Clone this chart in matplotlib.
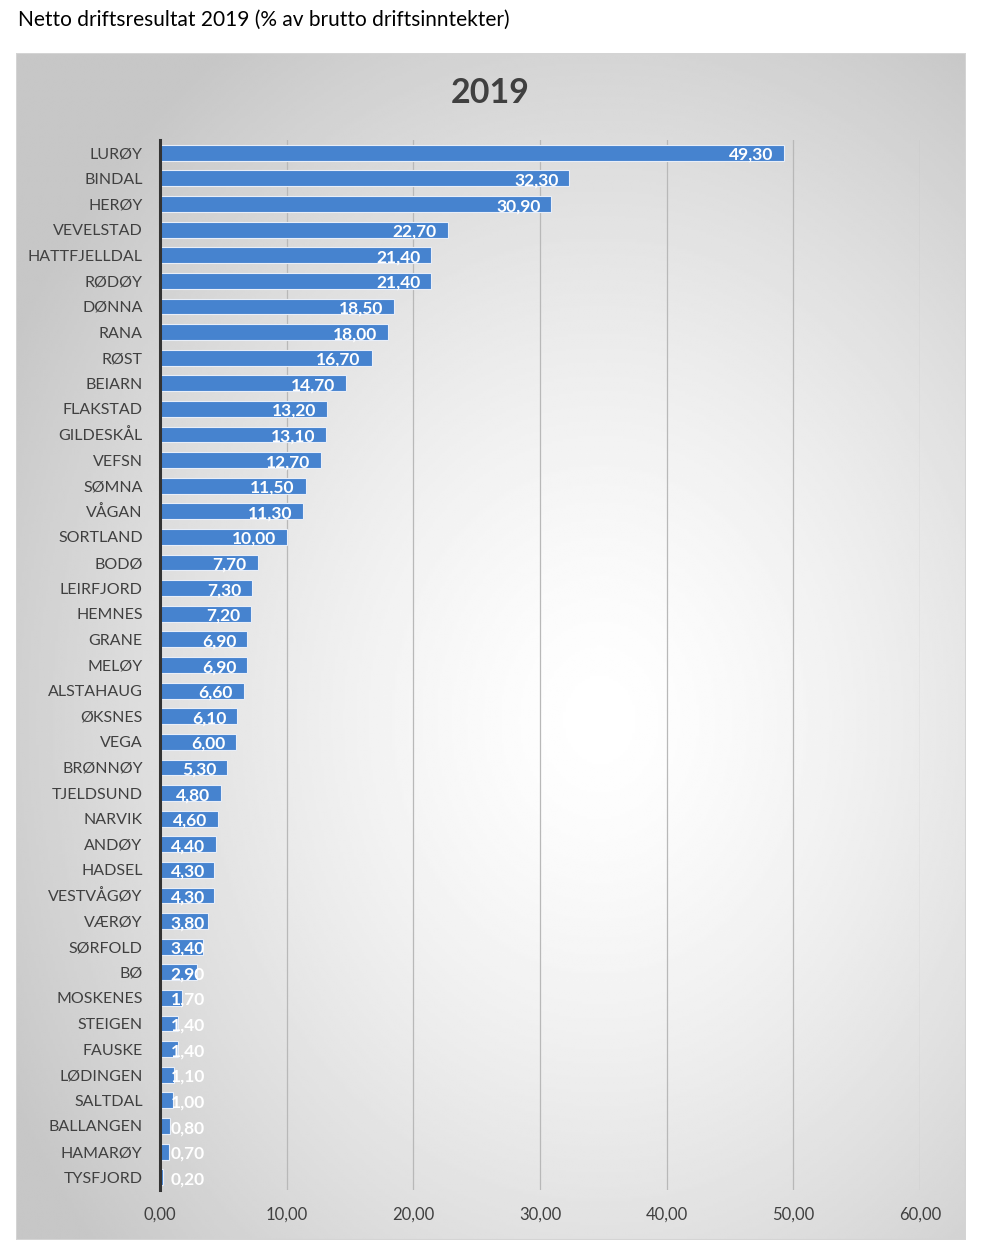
import numpy as np
import matplotlib
matplotlib.use("Agg")
import matplotlib.pyplot as plt
from matplotlib.patches import Rectangle

plt.rcParams['font.family'] = ['Lato', 'DejaVu Sans']

# Data (top to bottom as shown)
kommuner = [
	"LURØY", "BINDAL", "HERØY", "VEVELSTAD", "HATTFJELLDAL", "RØDØY", "DØNNA",
	"RANA", "RØST", "BEIARN", "FLAKSTAD", "GILDESKÅL", "VEFSN", "SØMNA", "VÅGAN",
	"SORTLAND", "BODØ", "LEIRFJORD", "HEMNES", "GRANE", "MELØY", "ALSTAHAUG",
	"ØKSNES", "VEGA", "BRØNNØY", "TJELDSUND", "NARVIK", "ANDØY", "HADSEL",
	"VESTVÅGØY", "VÆRØY", "SØRFOLD", "BØ", "MOSKENES", "STEIGEN", "FAUSKE",
	"LØDINGEN", "SALTDAL", "BALLANGEN", "HAMARØY", "TYSFJORD",
]
resultat = [
	49.3, 32.3, 30.9, 22.7, 21.4, 21.4, 18.5, 18.0, 16.7, 14.7, 13.2, 13.1,
	12.7, 11.5, 11.3, 10.0, 7.7, 7.3, 7.2, 6.9, 6.9, 6.6, 6.1, 6.0, 5.3,
	4.8, 4.6, 4.4, 4.3, 4.3, 3.8, 3.4, 2.9, 1.7, 1.4, 1.4, 1.1, 1.0, 0.8,
	0.7, 0.2,
]
x_ticks = [0, 10, 20, 30, 40, 50, 60]

W, H = 1000, 1251
fig = plt.figure(figsize=(W / 100, H / 100), dpi=100)
fig.patch.set_facecolor("white")

# chart box with radial gradient background
bx0, bx1, by0, by1 = 16, 966, 53, 1240
bg = fig.add_axes([bx0 / W, 1 - by1 / H, (bx1 - bx0) / W, (by1 - by0) / H])
gx, gy = np.meshgrid(np.linspace(bx0, bx1, 400), np.linspace(by0, by1, 500))
r = np.sqrt(((gx - 600) / 620) ** 2 + ((gy - 720) / 760) ** 2)
shade = np.clip(1.0 - 0.2 * r ** 1.4, 0.78, 1.0)
bg.imshow(shade, cmap="gray", vmin=0, vmax=1, aspect="auto",
		  extent=[0, 1, 0, 1], interpolation="bilinear")
bg.add_patch(Rectangle((0, 0), 1, 1, transform=bg.transAxes, fill=False,
					   edgecolor="#d4d4d4", linewidth=1.5))
bg.set_xlim(0, 1)
bg.set_ylim(0, 1)
bg.axis("off")

# main bar axes
ax_top, ax_bot = 140, 1190
ax = fig.add_axes([160 / W, 1 - ax_bot / H, 760 / W, (ax_bot - ax_top) / H])
ax.patch.set_alpha(0)

n = len(kommuner)
y = np.arange(n)
ax.barh(y, resultat, height=0.62, color="#4683cf", edgecolor="#e8eef8",
		linewidth=0.8, zorder=3)
ax.set_ylim(n - 0.5, -0.5)
ax.set_xlim(0, 60)
ax.set_yticks(y)
ax.set_yticklabels(kommuner, fontsize=11.5, color="#404040")
ax.set_xticks(x_ticks)
ax.set_xticklabels([f"{t:.2f}".replace(".", ",") for t in x_ticks],
				   fontsize=12, color="#404040")
ax.tick_params(axis="y", length=0, pad=12.5)
ax.tick_params(axis="x", length=0, pad=12)
ax.grid(axis="x", color="#b8b8b8", linewidth=0.9, zorder=0)
for s in ["top", "right", "bottom"]:
	ax.spines[s].set_visible(False)
ax.spines["left"].set_color("#333333")
ax.spines["left"].set_linewidth(2.2)
ax.spines["left"].set_zorder(4)

# value labels, placed at inside end (pushed out for short bars)
for i, v in enumerate(resultat):
	xr = max(v - 0.85, 3.55)
	ax.text(xr, i + 0.08, f"{v:.2f}".replace(".", ","), ha="right", va="center",
			fontsize=12.5, fontweight="bold", color="white", zorder=5)

fig.text(490 / W, 1 - 93 / H, "2019", ha="center", va="center",
		 fontsize=24.5, fontweight="bold", color="#404040")
fig.text(18 / W, 1 - 20 / H, "Netto driftsresultat 2019 (% av brutto driftsinntekter)",
		 ha="left", va="center", fontsize=15, color="black")

fig.savefig("out.png", dpi=100)
